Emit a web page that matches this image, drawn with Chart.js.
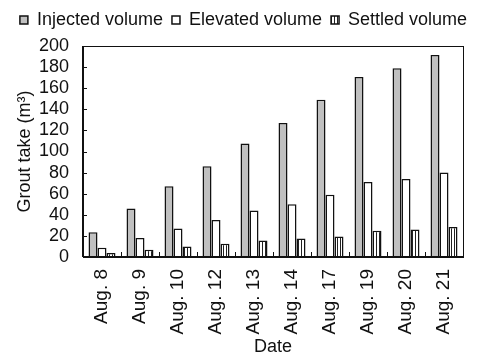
<!DOCTYPE html>
<html>
<head>
<meta charset="utf-8">
<script src="https://cdn.jsdelivr.net/npm/chart.js@4/dist/chart.umd.min.js"></script>
<style>
  html, body { margin: 0; padding: 0; background: #fff; }
  #wrap { width: 487px; height: 360px; }
</style>
</head>
<body>
<div id="wrap"><canvas id="chart" width="487" height="360"></canvas></div>
<script>
const dates = ['Aug. 8', 'Aug. 9', 'Aug. 10', 'Aug. 12', 'Aug. 13', 'Aug. 14', 'Aug. 17', 'Aug. 19', 'Aug. 20', 'Aug. 21'];
const injected = [23.5, 46, 67, 86, 107.5, 127, 149, 170.5, 179, 191.5];
const elevated = [8.7, 18, 27, 35, 44, 50, 59, 71, 74, 80];
const settled = [3.7, 6.8, 10, 12.5, 15.6, 17.5, 19.4, 25, 26, 28.5];

const FONT = 'Liberation Sans, Arial, sans-serif';
const INK = '#111';

// vertical hatch for the settled bars
function hatch() {
    const c = document.createElement('canvas');
    c.width = 3; c.height = 10;
    const g = c.getContext('2d');
    g.fillStyle = '#fff';
    g.fillRect(0, 0, 3, 10);
    g.fillStyle = '#222';
    g.fillRect(1, 0, 1, 10);
    return g.createPattern(c, 'repeat');
}

// a bit more room under the legend
const legendGap = {
    id: 'legendGap',
    beforeInit(chart) {
        const fit = chart.legend.fit;
        chart.legend.fit = function () {
            fit.call(this);
            this.height += 7;
        };
    }
};

// frame round the plot and inward tick marks
const frame = {
    id: 'frame',
    afterDraw(chart) {
        const ctx = chart.ctx;
        const a = chart.chartArea;
        const x = chart.scales.x, y = chart.scales.y;
        ctx.save();
        ctx.strokeStyle = INK;
        ctx.lineWidth = 1;
        ctx.strokeRect(Math.round(a.left) + 0.5, Math.round(a.top) + 0.5, Math.round(a.right - a.left), Math.round(a.bottom - a.top));
        ctx.lineWidth = 2;
        ctx.beginPath();
        ctx.moveTo(a.left, a.bottom);
        ctx.lineTo(a.right, a.bottom);
        ctx.moveTo(a.left, a.top);
        ctx.lineTo(a.left, a.bottom);
        ctx.stroke();
        ctx.lineWidth = 1;
        ctx.beginPath();
        y.ticks.forEach(t => {
            const py = Math.round(y.getPixelForValue(t.value)) + 0.5;
            ctx.moveTo(a.left, py);
            ctx.lineTo(a.left + 4, py);
        });
        for (let i = 1; i < dates.length; i++) {
            const px = Math.round((x.getPixelForValue(i - 1) + x.getPixelForValue(i)) / 2) + 0.5;
            ctx.moveTo(px, a.bottom);
            ctx.lineTo(px, a.bottom - 5);
        }
        ctx.stroke();
        ctx.restore();
    }
};

const border = { borderColor: INK, borderWidth: 1.5, borderSkipped: 'bottom' };

new Chart(document.getElementById('chart').getContext('2d'), {
    type: 'bar',
    data: {
        labels: dates,
        datasets: [
            Object.assign({ label: 'Injected volume', data: injected, backgroundColor: '#c0c0c0' }, border),
            Object.assign({ label: 'Elevated volume', data: elevated, backgroundColor: '#ffffff' }, border),
            Object.assign({ label: 'Settled volume', data: settled, backgroundColor: hatch() }, border)
        ]
    },
    options: {
        responsive: false,
        animation: false,
        layout: { padding: { top: 2, right: 0, bottom: 2, left: 0 } },
        datasets: { bar: { categoryPercentage: 0.71, barPercentage: 1.0 } },
        plugins: {
            tooltip: { enabled: false },
            legend: {
                position: 'top',
                labels: {
                    color: INK,
                    font: { family: FONT, size: 18 },
                    boxWidth: 8,
                    boxHeight: 8,
                    padding: 9
                }
            }
        },
        scales: {
            x: {
                grid: { display: false },
                border: { display: false },
                ticks: {
                    color: INK,
                    font: { family: FONT, size: 19 },
                    minRotation: 90,
                    maxRotation: 90,
                    autoSkip: false,
                    padding: 4
                },
                title: { display: true, text: 'Date', color: INK, font: { family: FONT, size: 18 }, padding: { top: 4, bottom: 0 } },
                afterFit(s) { s.height = 101; }
            },
            y: {
                min: 0,
                max: 200,
                grid: { display: false },
                border: { display: false },
                ticks: {
                    stepSize: 20,
                    autoSkip: false,
                    color: INK,
                    font: { family: FONT, size: 18 },
                    padding: 6
                },
                title: { display: true, text: 'Grout take (m³)', color: INK, font: { family: FONT, size: 18 }, padding: { top: 14, bottom: 0 } },
                afterFit(s) { s.width = 83; }
            },
            // empty right-hand axis, only keeps space beside the plot
            y2: {
                position: 'right',
                grid: { display: false },
                border: { display: false },
                ticks: { display: false },
                afterFit(s) { s.width = 24; }
            }
        }
    },
    plugins: [legendGap, frame]
});
</script>
</body>
</html>
